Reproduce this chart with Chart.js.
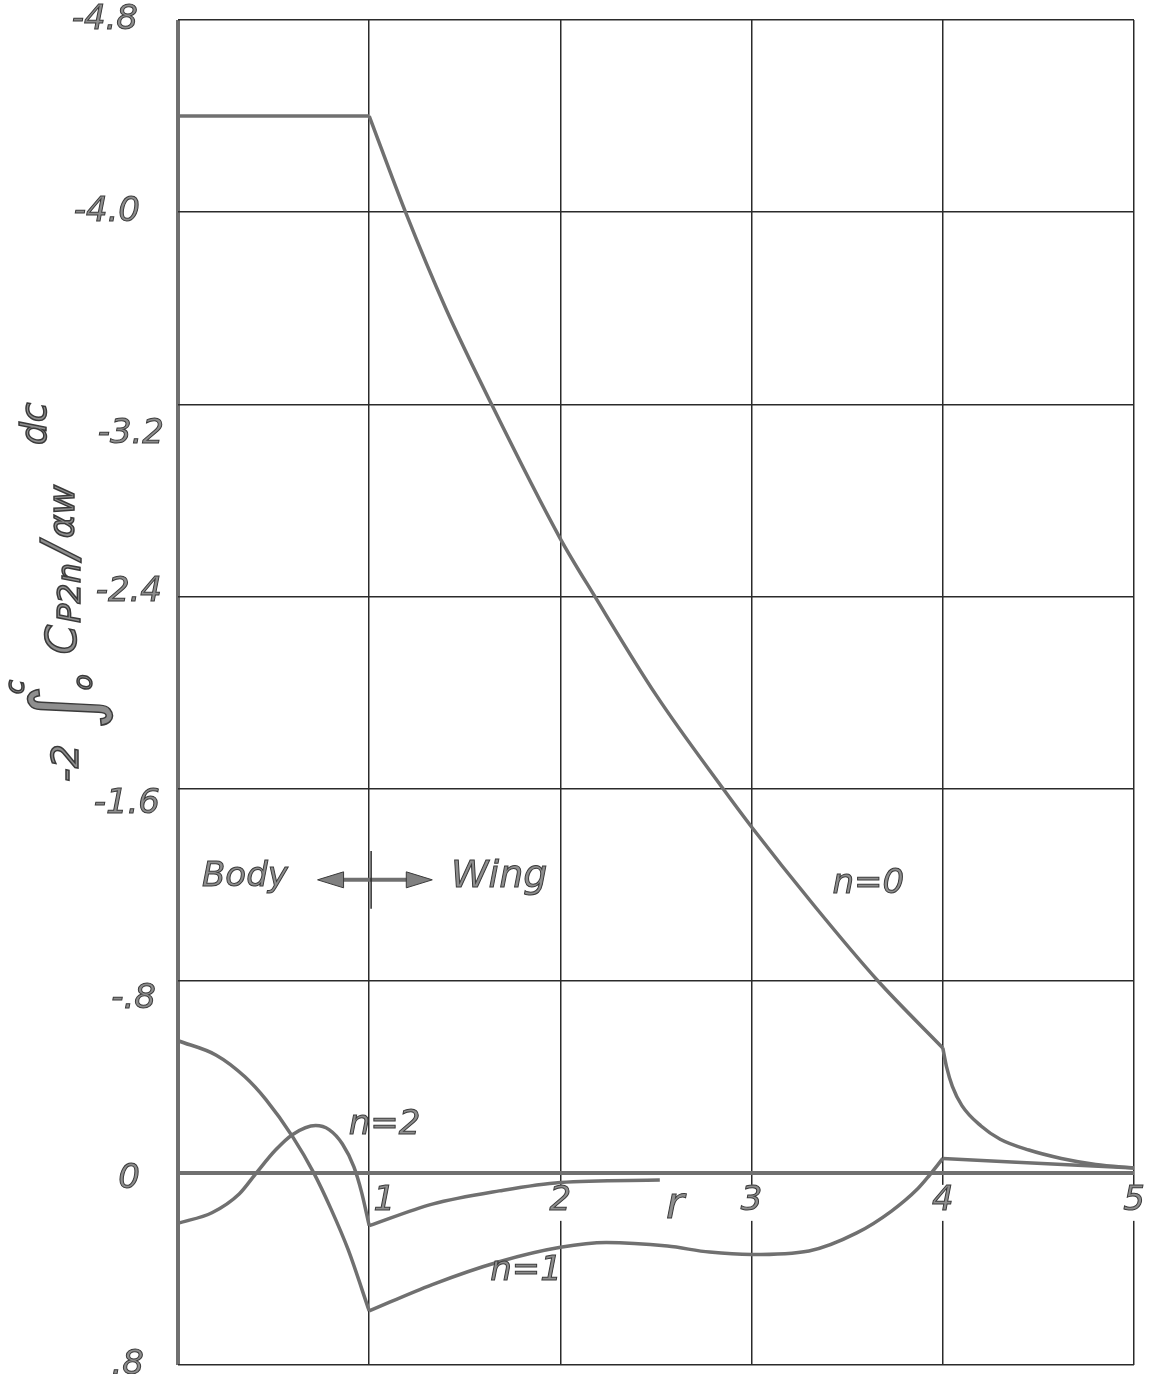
<!DOCTYPE html>
<html>
<head>
<meta charset="utf-8">
<script src="https://cdn.jsdelivr.net/npm/chart.js@4.4.1/dist/chart.umd.min.js"></script>
<style>
  html, body { margin: 0; padding: 0; background: #fff; }
</style>
</head>
<body>
<canvas id="myChart" width="1152" height="1374"></canvas>
<script>
// grid / tick values
const xGrid = [0, 1, 2, 3, 4, 5];
const xTickLabels = ["1", "2", "3", "4", "5"];
const yTicks = [-4.8, -4.0, -3.2, -2.4, -1.6, -0.8, 0, 0.8];
const yTickLabels = ["-4.8", "-4.0", "-3.2", "-2.4", "-1.6", "-.8", "0", ".8"];

// n = 0
const n0BodyR = [0, 1];
const n0BodyV = [-4.4, -4.4];
const n0WingR = [1, 1.19, 1.4, 1.64, 2.0, 2.18, 2.5, 2.85, 3.0, 3.33, 3.66, 4.0];
const n0WingV = [-4.4, -4.0, -3.6, -3.2, -2.64, -2.4, -1.99, -1.6, -1.44, -1.11, -0.8, -0.52];
const n0TipR = [4.0, 4.02, 4.05, 4.1, 4.2, 4.3, 4.45, 4.62, 4.8, 5.0];
const n0TipV = [-0.52, -0.44, -0.36, -0.28, -0.195, -0.14, -0.095, -0.06, -0.035, -0.02];

// n = 1
const n1BodyR = [0, 0.2, 0.35, 0.46, 0.6, 0.71, 0.8, 0.89, 1.0];
const n1BodyV = [-0.55, -0.49, -0.40, -0.305, -0.15, 0, 0.15, 0.32, 0.575];
const n1WingR = [1.0, 1.33, 1.68, 2.0, 2.24, 2.56, 2.78, 3.0, 3.3, 3.55, 3.73, 3.87, 3.93, 4.0];
const n1WingV = [0.575, 0.465, 0.37, 0.31, 0.29, 0.305, 0.33, 0.34, 0.325, 0.25, 0.16, 0.065, 0.01, -0.06];
const n1TipR = [4.0, 5.0];
const n1TipV = [-0.06, -0.02];

// n = 2
const n2BodyR = [0, 0.18, 0.32, 0.41, 0.51, 0.6, 0.72, 0.79, 0.86, 0.92, 0.96, 1.0];
const n2BodyV = [0.21, 0.165, 0.088, 0.0, -0.095, -0.16, -0.197, -0.18, -0.12, -0.025, 0.08, 0.22];
const n2WingR = [1.0, 1.33, 1.68, 2.0, 2.52];
const n2WingV = [0.22, 0.13, 0.075, 0.04, 0.03];

// curve labels, in data units
const notes = [
  { text: "n=0", r: 3.61, v: -1.2 },
  { text: "n=2", r: 1.08, v: -0.2 },
  { text: "n=1", r: 1.82, v: 0.41 },
  { text: "Body", r: 0.35, v: -1.23 },
  { text: "Wing", r: 1.68, v: -1.23 },
  { text: "r", r: 2.6, v: 0.14 }
];

const LINE = "#707070";
const INK = "#2b2b2b";

function pts(rs, vs) {
  return rs.map((r, i) => ({ x: r, y: vs[i] }));
}

function curve(rs, vs) {
  return {
    data: pts(rs, vs),
    borderColor: LINE,
    borderWidth: 3.5,
    pointRadius: 0,
    fill: false,
    cubicInterpolationMode: "monotone"
  };
}

function inkText(c, t, x, y) {
  c.fillText(t, x, y);
  c.strokeText(t, x, y);
}

const handText = {
  id: "handText",
  afterDatasetsDraw(chart) {
    const c = chart.ctx;
    const xs = chart.scales.x;
    const ys = chart.scales.y;
    const y0 = ys.getPixelForValue(0);
    c.save();
    c.fillStyle = "#8e8e8e";
    c.strokeStyle = "#3a3a3a";
    c.lineWidth = 1;
    c.textAlign = "center";
    c.textBaseline = "middle";

    // r labels just under the zero line, grid broken behind them
    c.font = "italic 34px 'DejaVu Sans'";
    xTickLabels.forEach((t, i) => {
      const px = xs.getPixelForValue(xGrid[i + 1]);
      if (i > 0) {
        c.save();
        c.fillStyle = "#fff";
        c.fillRect(px - 4, y0 + 12, 8, 36);
        c.restore();
      }
      inkText(c, t, i === 0 ? px + 15 : px, y0 + 28);
    });

    // y labels
    const nudge = [[-12, 0], [-10, 0], [14, 30], [12, -4], [10, 16], [6, 18], [-10, 6], [-6, 0]];
    c.textAlign = "right";
    c.font = "italic 34px 'DejaVu Sans'";
    yTickLabels.forEach((t, i) => {
      const py = ys.getPixelForValue(yTicks[i]);
      inkText(c, t, 150 + nudge[i][0], py + nudge[i][1]);
    });

    // curve notes
    c.textAlign = "center";
    notes.forEach(n => {
      let f = "italic 34px 'DejaVu Sans'";
      if (n.text === "r") f = "italic 44px 'DejaVu Sans'";
      if (n.text === "Wing") f = "italic 38px 'DejaVu Sans'";
      c.font = f;
      inkText(c, n.text, xs.getPixelForValue(n.r), ys.getPixelForValue(n.v));
    });

    // body <-> wing arrow
    const ay = ys.getPixelForValue(-1.22);
    const ax0 = xs.getPixelForValue(0.73);
    const ax1 = xs.getPixelForValue(1.33);
    c.strokeStyle = LINE;
    c.lineWidth = 4;
    c.beginPath();
    c.moveTo(ax0 + 10, ay);
    c.lineTo(ax1 - 10, ay);
    c.stroke();
    c.fillStyle = "#808080";
    c.strokeStyle = "#3a3a3a";
    c.lineWidth = 1;
    [[ax0, 1], [ax1, -1]].forEach(([hx, d]) => {
      c.beginPath();
      c.moveTo(hx, ay);
      c.lineTo(hx + 26 * d, ay - 8);
      c.lineTo(hx + 26 * d, ay + 8);
      c.closePath();
      c.fill();
      c.stroke();
    });
    const tx = xs.getPixelForValue(1.01);
    c.strokeStyle = INK;
    c.lineWidth = 1.5;
    c.beginPath();
    c.moveTo(tx, ys.getPixelForValue(-1.34));
    c.lineTo(tx, ys.getPixelForValue(-1.10));
    c.stroke();

    // rotated axis title
    c.save();
    c.translate(80, 782);
    c.rotate(-Math.PI / 2);
    c.textAlign = "left";
    c.textBaseline = "alphabetic";
    c.fillStyle = "#8e8e8e";
    c.strokeStyle = "#3a3a3a";
    let x = 0;
    const part = (t, size, dy, gap) => {
      c.font = "italic " + size + "px 'DejaVu Sans'";
      inkText(c, t, x, dy);
      x += c.measureText(t).width + gap;
    };
    part("-2", 38, -2, 14);
    part("\u222B", 88, 14, -6);
    c.font = "italic 26px 'DejaVu Sans'";
    inkText(c, "o", x, 12);
    inkText(c, "c", x - 4, -56);
    x += 36;
    part("C", 42, -4, 2);
    part("P2n", 32, 0, 4);
    part("/", 50, -4, 4);
    part("\u03B1w", 36, -6, 40);
    part("dc", 36, -34, 0);
    c.restore();

    c.restore();
  }
};

const ctx = document.getElementById("myChart");

new Chart(ctx, {
  type: "line",
  data: {
    datasets: [
      curve(n0BodyR, n0BodyV),
      curve(n0WingR, n0WingV),
      curve(n0TipR, n0TipV),
      curve(n1BodyR, n1BodyV),
      curve(n1WingR, n1WingV),
      curve(n1TipR, n1TipV),
      curve(n2BodyR, n2BodyV),
      curve(n2WingR, n2WingV)
    ]
  },
  options: {
    responsive: false,
    animation: false,
    layout: { padding: { left: 178, right: 18, top: 20, bottom: 9 } },
    plugins: {
      legend: { display: false },
      tooltip: { enabled: false }
    },
    scales: {
      x: {
        type: "linear",
        min: 0,
        max: 5,
        afterBuildTicks: (axis) => {
          axis.ticks = xGrid.map(v => ({ value: v }));
        },
        ticks: { display: false },
        border: { display: false },
        grid: {
          drawTicks: false,
          color: (c) => (c.tick && c.tick.value === 0 ? LINE : INK),
          lineWidth: (c) => (c.tick && c.tick.value === 0 ? 4 : 1.5)
        }
      },
      y: {
        type: "linear",
        reverse: true,
        min: -4.8,
        max: 0.8,
        afterBuildTicks: (axis) => {
          axis.ticks = yTicks.map(v => ({ value: v }));
        },
        ticks: { display: false },
        border: { display: false },
        grid: {
          drawTicks: false,
          color: (c) => (c.tick && c.tick.value === 0 ? LINE : INK),
          lineWidth: (c) => (c.tick && c.tick.value === 0 ? 4 : 1.5)
        }
      }
    }
  },
  plugins: [handText]
});
</script>
</body>
</html>
